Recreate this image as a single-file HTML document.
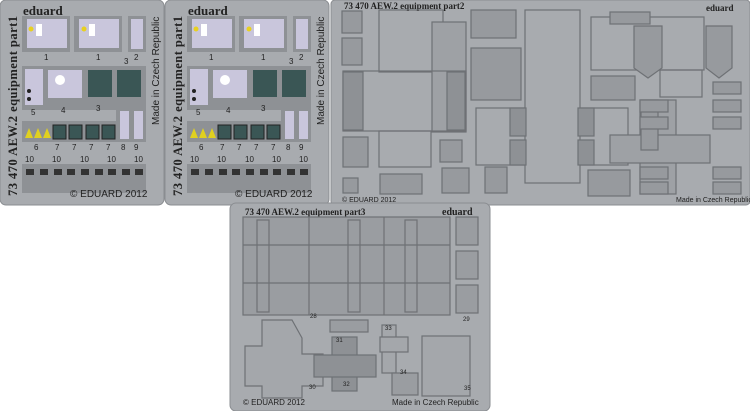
<!DOCTYPE html>
<html><head><meta charset="utf-8"><style>
html,body{margin:0;padding:0;background:#fff;width:750px;height:411px;overflow:hidden}
svg{display:block}
text{font-family:"Liberation Sans",sans-serif;fill:#222}
.s{font-family:"Liberation Serif",serif;font-weight:bold}
</style></head><body>
<svg width="750" height="411" viewBox="0 0 750 411" xmlns="http://www.w3.org/2000/svg">
<rect width="750" height="411" fill="#fff"/>
<rect x="0" y="0" width="164" height="205" rx="6" fill="#a8abaf" stroke="#8a8d91"/>
<rect x="165" y="0" width="164" height="205" rx="6" fill="#a8abaf" stroke="#8a8d91"/>
<rect x="331" y="0" width="419" height="205" rx="4" fill="#a8abaf" stroke="#8a8d91"/>
<rect x="230" y="203" width="260" height="208" rx="6" fill="#a8abaf" stroke="#8a8d91"/>

<g id="p1">
<text class="s" x="23" y="15" font-size="13">eduard</text>
<text class="s" font-size="12.5" textLength="180" transform="translate(17,196) rotate(-90)">73 470 AEW.2 equipment part1</text>
<text font-size="10" transform="translate(159,125) rotate(-90)">Made in Czech Republic</text>
<rect x="22" y="16" width="48" height="36" fill="#8e9195"/><rect x="27" y="19" width="40" height="29" fill="#c9c6dc"/>
<circle cx="31" cy="29" r="2.5" fill="#e8d020"/><rect x="36" y="24" width="6" height="12" fill="#fff"/>
<rect x="74" y="16" width="48" height="36" fill="#8e9195"/><rect x="79" y="19" width="40" height="29" fill="#c9c6dc"/>
<circle cx="84" cy="29" r="2.5" fill="#e8d020"/><rect x="89" y="24" width="6" height="12" fill="#fff"/>
<rect x="128" y="16" width="18" height="36" fill="#8e9195"/><rect x="131" y="19" width="12" height="30" fill="#c9c6dc"/>
<text x="44" y="60" font-size="8">1</text><text x="96" y="60" font-size="8">1</text><text x="134" y="60" font-size="8">2</text>
<rect x="22" y="66" width="124" height="44" fill="#8e9195"/>
<rect x="25" y="69" width="18" height="36" fill="#c9c6dc"/>
<circle cx="29" cy="91" r="2" fill="#222"/><circle cx="29" cy="99" r="2" fill="#222"/>
<rect x="48" y="70" width="34" height="28" fill="#c9c6dc"/><circle cx="60" cy="80" r="5" fill="#fff"/>
<rect x="88" y="70" width="24" height="27" fill="#3a5655"/><rect x="117" y="70" width="24" height="27" fill="#3a5655"/>
<text x="124" y="64" font-size="8">3</text>
<text x="31" y="115" font-size="8">5</text><text x="61" y="113" font-size="8">4</text><text x="96" y="111" font-size="8">3</text>
<rect x="116" y="108" width="30" height="34" fill="#8e9195"/>
<rect x="22" y="121" width="96" height="21" fill="#8e9195"/>
<rect x="120" y="111" width="9" height="28" fill="#c9c6dc"/><rect x="134" y="111" width="9" height="28" fill="#c9c6dc"/>
<polygon points="25,138 29,128 33,138" fill="#e0d020"/><polygon points="34,138 38,128 42,138" fill="#e0d020"/><polygon points="43,138 47,128 51,138" fill="#e0d020"/>
<rect x="53" y="125" width="13" height="14" fill="#3a5655" stroke="#222"/><rect x="69" y="125" width="13" height="14" fill="#3a5655" stroke="#222"/>
<rect x="86" y="125" width="13" height="14" fill="#3a5655" stroke="#222"/><rect x="102" y="125" width="13" height="14" fill="#3a5655" stroke="#222"/>
<text x="34" y="150" font-size="8">6</text><text x="55" y="150" font-size="8">7</text><text x="72" y="150" font-size="8">7</text><text x="89" y="150" font-size="8">7</text><text x="106" y="150" font-size="8">7</text><text x="121" y="150" font-size="8">8</text><text x="134" y="150" font-size="8">9</text>
<text x="25" y="162" font-size="8">10</text><text x="52" y="162" font-size="8">10</text><text x="80" y="162" font-size="8">10</text><text x="107" y="162" font-size="8">10</text><text x="134" y="162" font-size="8">10</text>
<rect x="22" y="164" width="124" height="29" fill="#8e9195"/>
<g fill="#333"><rect x="26" y="169" width="8" height="6"/><rect x="40" y="169" width="8" height="6"/><rect x="54" y="169" width="8" height="6"/><rect x="67" y="169" width="8" height="6"/><rect x="81" y="169" width="8" height="6"/><rect x="95" y="169" width="8" height="6"/><rect x="108" y="169" width="8" height="6"/><rect x="122" y="169" width="8" height="6"/><rect x="135" y="169" width="8" height="6"/></g>
<text x="70" y="197" font-size="10">© EDUARD 2012</text>
</g>
<g transform="translate(165,0)">
<text class="s" x="23" y="15" font-size="13">eduard</text>
<text class="s" font-size="12.5" textLength="180" transform="translate(17,196) rotate(-90)">73 470 AEW.2 equipment part1</text>
<text font-size="10" transform="translate(159,125) rotate(-90)">Made in Czech Republic</text>
<rect x="22" y="16" width="48" height="36" fill="#8e9195"/><rect x="27" y="19" width="40" height="29" fill="#c9c6dc"/>
<circle cx="31" cy="29" r="2.5" fill="#e8d020"/><rect x="36" y="24" width="6" height="12" fill="#fff"/>
<rect x="74" y="16" width="48" height="36" fill="#8e9195"/><rect x="79" y="19" width="40" height="29" fill="#c9c6dc"/>
<circle cx="84" cy="29" r="2.5" fill="#e8d020"/><rect x="89" y="24" width="6" height="12" fill="#fff"/>
<rect x="128" y="16" width="18" height="36" fill="#8e9195"/><rect x="131" y="19" width="12" height="30" fill="#c9c6dc"/>
<text x="44" y="60" font-size="8">1</text><text x="96" y="60" font-size="8">1</text><text x="134" y="60" font-size="8">2</text>
<rect x="22" y="66" width="124" height="44" fill="#8e9195"/>
<rect x="25" y="69" width="18" height="36" fill="#c9c6dc"/>
<circle cx="29" cy="91" r="2" fill="#222"/><circle cx="29" cy="99" r="2" fill="#222"/>
<rect x="48" y="70" width="34" height="28" fill="#c9c6dc"/><circle cx="60" cy="80" r="5" fill="#fff"/>
<rect x="88" y="70" width="24" height="27" fill="#3a5655"/><rect x="117" y="70" width="24" height="27" fill="#3a5655"/>
<text x="124" y="64" font-size="8">3</text>
<text x="31" y="115" font-size="8">5</text><text x="61" y="113" font-size="8">4</text><text x="96" y="111" font-size="8">3</text>
<rect x="116" y="108" width="30" height="34" fill="#8e9195"/>
<rect x="22" y="121" width="96" height="21" fill="#8e9195"/>
<rect x="120" y="111" width="9" height="28" fill="#c9c6dc"/><rect x="134" y="111" width="9" height="28" fill="#c9c6dc"/>
<polygon points="25,138 29,128 33,138" fill="#e0d020"/><polygon points="34,138 38,128 42,138" fill="#e0d020"/><polygon points="43,138 47,128 51,138" fill="#e0d020"/>
<rect x="53" y="125" width="13" height="14" fill="#3a5655" stroke="#222"/><rect x="69" y="125" width="13" height="14" fill="#3a5655" stroke="#222"/>
<rect x="86" y="125" width="13" height="14" fill="#3a5655" stroke="#222"/><rect x="102" y="125" width="13" height="14" fill="#3a5655" stroke="#222"/>
<text x="34" y="150" font-size="8">6</text><text x="55" y="150" font-size="8">7</text><text x="72" y="150" font-size="8">7</text><text x="89" y="150" font-size="8">7</text><text x="106" y="150" font-size="8">7</text><text x="121" y="150" font-size="8">8</text><text x="134" y="150" font-size="8">9</text>
<text x="25" y="162" font-size="8">10</text><text x="52" y="162" font-size="8">10</text><text x="80" y="162" font-size="8">10</text><text x="107" y="162" font-size="8">10</text><text x="134" y="162" font-size="8">10</text>
<rect x="22" y="164" width="124" height="29" fill="#8e9195"/>
<g fill="#333"><rect x="26" y="169" width="8" height="6"/><rect x="40" y="169" width="8" height="6"/><rect x="54" y="169" width="8" height="6"/><rect x="67" y="169" width="8" height="6"/><rect x="81" y="169" width="8" height="6"/><rect x="95" y="169" width="8" height="6"/><rect x="108" y="169" width="8" height="6"/><rect x="122" y="169" width="8" height="6"/><rect x="135" y="169" width="8" height="6"/></g>
<text x="70" y="197" font-size="10">© EDUARD 2012</text>
</g>

<g stroke="#6e7175" fill="none" stroke-width="1.2">
<text class="s" x="344" y="9" font-size="9" stroke="none">73 470 AEW.2 equipment   part2</text>
<text class="s" x="706" y="11" font-size="9" stroke="none">eduard</text>
<rect x="342" y="11" width="20" height="22" fill="#979a9e"/><rect x="342" y="38" width="20" height="27" fill="#979a9e"/>
<rect x="379" y="10" width="64" height="62"/>
<rect x="432" y="22" width="34" height="110" fill="#9ea1a5"/>
<rect x="343" y="71" width="123" height="60"/>
<rect x="343" y="72" width="20" height="58" fill="#8e9195"/><rect x="447" y="72" width="18" height="58" fill="#8e9195"/>
<rect x="379" y="131" width="52" height="36"/>
<rect x="343" y="137" width="25" height="30" fill="#979a9e"/><rect x="343" y="178" width="15" height="15" fill="#979a9e"/>
<rect x="380" y="174" width="42" height="20" fill="#979a9e"/>
<rect x="471" y="10" width="45" height="28" fill="#979a9e"/>
<rect x="471" y="48" width="50" height="52" fill="#979a9e"/>
<rect x="440" y="140" width="22" height="22" fill="#979a9e"/>
<rect x="442" y="168" width="27" height="25" fill="#979a9e"/>
<rect x="485" y="167" width="22" height="26" fill="#979a9e"/>
<rect x="476" y="108" width="50" height="57"/><rect x="578" y="108" width="50" height="57"/>
<rect x="525" y="10" width="55" height="173" fill="#a8abaf"/>
<rect x="510" y="108" width="16" height="28" fill="#8e9195"/><rect x="578" y="108" width="16" height="28" fill="#8e9195"/>
<rect x="510" y="140" width="16" height="25" fill="#8e9195"/><rect x="578" y="140" width="16" height="25" fill="#8e9195"/>
<rect x="591" y="17" width="113" height="53"/>
<rect x="660" y="70" width="42" height="27"/>
<polygon points="634,26 662,26 662,68 648,78 634,68" fill="#979a9e"/>
<polygon points="706,26 732,26 732,68 719,78 706,68" fill="#979a9e"/>
<rect x="610" y="12" width="40" height="12" fill="#979a9e"/>
<rect x="591" y="76" width="44" height="24" fill="#979a9e"/>
<rect x="640" y="100" width="36" height="94" fill="#9ea1a5"/>
<rect x="610" y="135" width="100" height="28" fill="#9ea1a5"/>
<rect x="588" y="170" width="42" height="26" fill="#979a9e"/>
<rect x="641" y="100" width="17" height="50" fill="#979a9e"/>
<g fill="#979a9e"><rect x="713" y="82" width="28" height="12"/><rect x="713" y="100" width="28" height="12"/><rect x="713" y="117" width="28" height="12"/><rect x="640" y="100" width="28" height="12"/><rect x="640" y="117" width="28" height="12"/><rect x="640" y="167" width="28" height="12"/><rect x="640" y="182" width="28" height="12"/><rect x="713" y="167" width="28" height="12"/><rect x="713" y="182" width="28" height="12"/></g>
</g>
<text x="342" y="202" font-size="7">© EDUARD 2012</text>
<text x="676" y="202" font-size="7">Made in Czech Republic</text>

<text class="s" x="245" y="215" font-size="9">73 470 AEW.2 equipment   part3</text>
<text class="s" x="442" y="215" font-size="10">eduard</text>
<g stroke="#6e7175" fill="#9a9da1" stroke-width="1.2">
<rect x="243" y="217" width="207" height="98"/>
<rect x="257" y="220" width="12" height="92" fill="none"/><rect x="348" y="220" width="12" height="92" fill="none"/><rect x="405" y="220" width="12" height="92" fill="none"/>
<line x1="243" y1="245" x2="450" y2="245"/><line x1="243" y1="283" x2="450" y2="283"/><line x1="309" y1="217" x2="309" y2="315"/><line x1="384" y1="217" x2="384" y2="315"/>
<rect x="456" y="217" width="22" height="28"/><rect x="456" y="251" width="22" height="28"/><rect x="456" y="285" width="22" height="28"/>
<rect x="330" y="320" width="38" height="12"/>
<polygon points="262,320 292,320 302,338 302,354 323,354 323,386 302,386 302,398 262,398 262,386 245,386 245,346 262,346" fill="#a4a7ab"/>
<rect x="332" y="337" width="25" height="54" fill="#8e9195"/><rect x="314" y="355" width="62" height="22" fill="#8e9195"/>
<rect x="382" y="325" width="14" height="48" fill="#a4a7ab"/><rect x="380" y="337" width="28" height="15" fill="#a4a7ab"/>
<rect x="392" y="373" width="26" height="22"/>
<rect x="422" y="336" width="48" height="60" fill="#a4a7ab"/>
</g>
<g font-size="6"><text x="310" y="318">28</text><text x="463" y="321">29</text><text x="336" y="342">31</text><text x="385" y="330">33</text><text x="309" y="389">30</text><text x="343" y="386">32</text><text x="400" y="374">34</text><text x="464" y="390">35</text></g>
<text x="243" y="405" font-size="8">© EDUARD 2012</text>
<text x="392" y="405" font-size="8">Made in Czech Republic</text>
</svg>
</body></html>
